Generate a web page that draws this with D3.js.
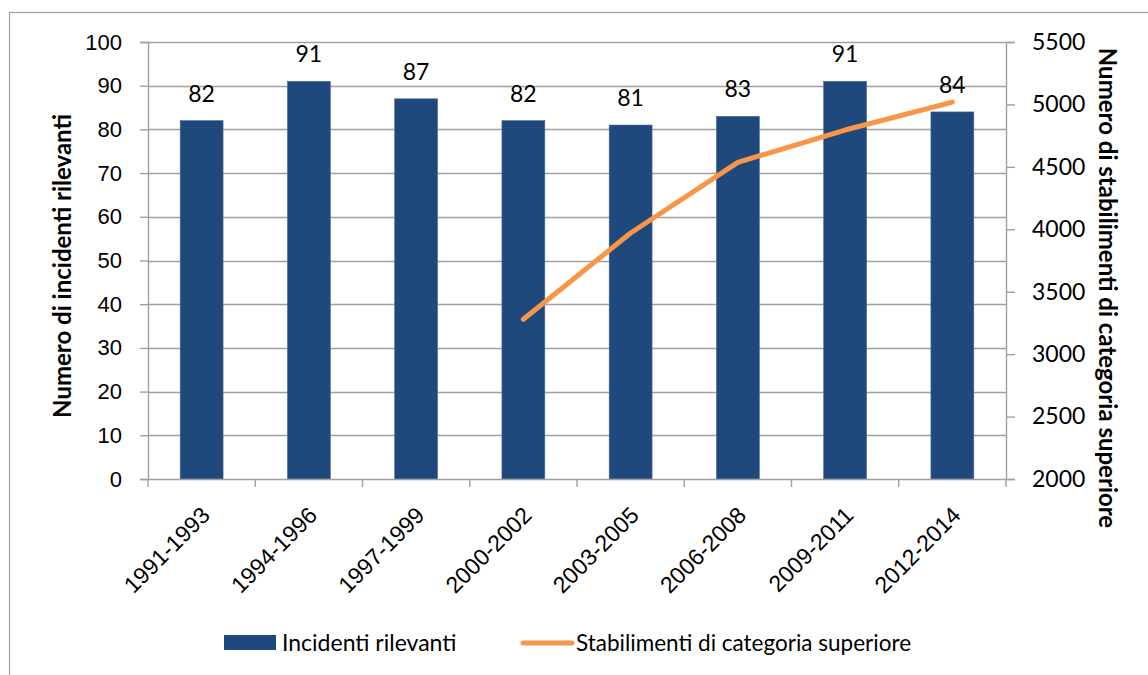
<!DOCTYPE html>
<html>
<head>
<meta charset="utf-8">
<script src="https://cdn.jsdelivr.net/npm/d3@7"></script>
<style>
    body { margin: 0; background: #fff; }
    svg { display: block; }
</style>
</head>
<body>
<svg id="chart"></svg>
<script>
// données
var periodi = ["1991-1993", "1994-1996", "1997-1999", "2000-2002", "2003-2005", "2006-2008", "2009-2011", "2012-2014"];
var incidenti = [82, 91, 87, 82, 81, 83, 91, 84];
var stabilimenti = [null, null, null, 3279, 3970, 4536, 4795, 5019];
var ticksSx = [0, 10, 20, 30, 40, 50, 60, 70, 80, 90, 100];
var ticksDx = [2000, 2500, 3000, 3500, 4000, 4500, 5000, 5500];

var svg = d3.select("#chart")
    .attr("width", 1148)
    .attr("height", 675);

var margin = {
  top: 42,
  right: 142,
  bottom: 196,
  left: 148
    },
    width = 1148 - margin.left - margin.right,
    height = 675 - margin.top - margin.bottom;

var grigio = "#a0a0a0";
var blu = "#1f497d";
var arancio = "#f79646";

// cadre extérieur
svg.append("rect")
    .attr("x", 9.5)
    .attr("y", 12.5)
    .attr("width", 1200)
    .attr("height", 700)
    .attr("fill", "none")
    .attr("stroke", grigio)
    .attr("stroke-width", 1.2);

var g = svg.append("g").attr("transform", "translate(" + margin.left + "," + margin.top + ")");

var xBand = d3.scaleBand()
    .domain(periodi)
    .range([0, width]);

var ySx = d3.scaleLinear()
    .domain([0, 100])
    .range([height, 0]);

var yDx = d3.scaleLinear()
    .domain([2000, 5500])
    .range([height, 0]);

// grille
g.selectAll(".grid")
    .data(ticksSx.slice(1))
    .enter().append("line")
    .attr("class", "grid")
    .attr("x1", 0)
    .attr("x2", width)
    .attr("y1", function(d) { return Math.round(ySx(d)) + 0.5; })
    .attr("y2", function(d) { return Math.round(ySx(d)) + 0.5; })
    .attr("stroke", grigio)
    .attr("stroke-width", 1.4);

// barres
g.selectAll(".bar")
    .data(incidenti)
    .enter().append("rect")
    .attr("class", "bar")
    .attr("x", function(d, i) { return xBand(periodi[i]) + xBand.bandwidth() * 0.3; })
    .attr("width", xBand.bandwidth() * 0.4)
    .attr("y", function(d) { return ySx(d); })
    .attr("height", function(d) { return height - ySx(d); })
    .attr("fill", blu)
    .attr("stroke", "#4a6a94")
    .attr("stroke-width", 0.6);

// étiquettes des barres
g.selectAll(".lbl")
    .data(incidenti)
    .enter().append("text")
    .attr("class", "lbl")
    .attr("x", function(d, i) { return xBand(periodi[i]) + xBand.bandwidth() / 2; })
    .attr("y", function(d) { return ySx(d) - 19; })
    .attr("text-anchor", "middle")
    .style("font", "23px Lato")
    .attr("fill", "#000")
    .text(function(d) { return d; });

// ligne
var linea = d3.line()
    .defined(function(d) { return d !== null; })
    .x(function(d, i) { return xBand(periodi[i]) + xBand.bandwidth() / 2; })
    .y(function(d) { return yDx(d); });

g.append("path")
    .datum(stabilimenti)
    .attr("d", linea)
    .attr("fill", "none")
    .attr("stroke", arancio)
    .attr("stroke-width", 5)
    .attr("stroke-linecap", "round")
    .attr("stroke-linejoin", "round");

// axe gauche
var axeSx = g.append("g")
    .attr("class", "axis")
    .call(d3.axisLeft(ySx).tickValues(ticksSx).tickSize(8).tickPadding(18));

// axe droit
var axeDx = g.append("g")
    .attr("class", "axis")
    .attr("transform", "translate(" + width + ",0)")
    .call(d3.axisRight(yDx).tickValues(ticksDx).tickSize(9).tickPadding(17).tickFormat(d3.format("d")));

// axe x
var axeX = g.append("g")
    .attr("class", "axis")
    .attr("transform", "translate(0," + height + ")")
    .call(d3.axisBottom(xBand).tickSize(0).tickFormat(""));

axeX.selectAll(".sep")
    .data(d3.range(periodi.length + 1))
    .enter().append("line")
    .attr("class", "sep")
    .attr("x1", function(i) { return i * xBand.step(); })
    .attr("x2", function(i) { return i * xBand.step(); })
    .attr("y1", 0)
    .attr("y2", 8)
    .attr("stroke", grigio)
    .attr("stroke-width", 1.4);

axeX.selectAll(".cat")
    .data(periodi)
    .enter().append("text")
    .attr("class", "cat")
    .attr("transform", function(d) {
        return "translate(" + (xBand(d) + xBand.bandwidth() / 2 + 4) + ",32) rotate(-45)";
    })
    .attr("text-anchor", "end")
    .attr("dy", "0.35em")
    .attr("fill", "#000")
    .style("font", "23px 'Liberation Sans'")
    .text(function(d) { return d; });

svg.selectAll(".axis path.domain")
    .attr("stroke", grigio)
    .attr("stroke-width", 1.4);
svg.selectAll(".axis .tick line")
    .attr("stroke", grigio)
    .attr("stroke-width", 1.4);
axeSx.selectAll(".tick text")
    .attr("fill", "#000")
    .style("font", "22px 'Liberation Sans'");
axeDx.selectAll(".tick text")
    .attr("fill", "#000")
    .style("font", "23px Lato");

// titres des axes
svg.append("text")
    .attr("transform", "translate(71,266) rotate(-90)")
    .attr("text-anchor", "middle")
    .style("font", "bold 24px Lato")
    .attr("fill", "#000")
    .text("Numero di incidenti rilevanti");

svg.append("text")
    .attr("transform", "translate(1099,288) rotate(90)")
    .attr("text-anchor", "middle")
    .style("font", "bold 24px Lato")
    .attr("fill", "#000")
    .text("Numero di stabilimenti di categoria superiore");

// légende
var leg = svg.append("g").attr("class", "legend");
leg.append("rect")
    .attr("x", 224)
    .attr("y", 635)
    .attr("width", 52)
    .attr("height", 15)
    .attr("fill", blu);
leg.append("text")
    .attr("x", 282)
    .attr("y", 651)
    .style("font", "23px Lato")
    .attr("fill", "#000")
    .text("Incidenti rilevanti");
leg.append("line")
    .attr("x1", 523)
    .attr("x2", 572)
    .attr("y1", 643)
    .attr("y2", 643)
    .attr("stroke", arancio)
    .attr("stroke-width", 5)
    .attr("stroke-linecap", "round");
leg.append("text")
    .attr("x", 576)
    .attr("y", 651)
    .style("font", "22.5px Lato")
    .attr("fill", "#000")
    .text("Stabilimenti di categoria superiore");
</script>
</body>
</html>
